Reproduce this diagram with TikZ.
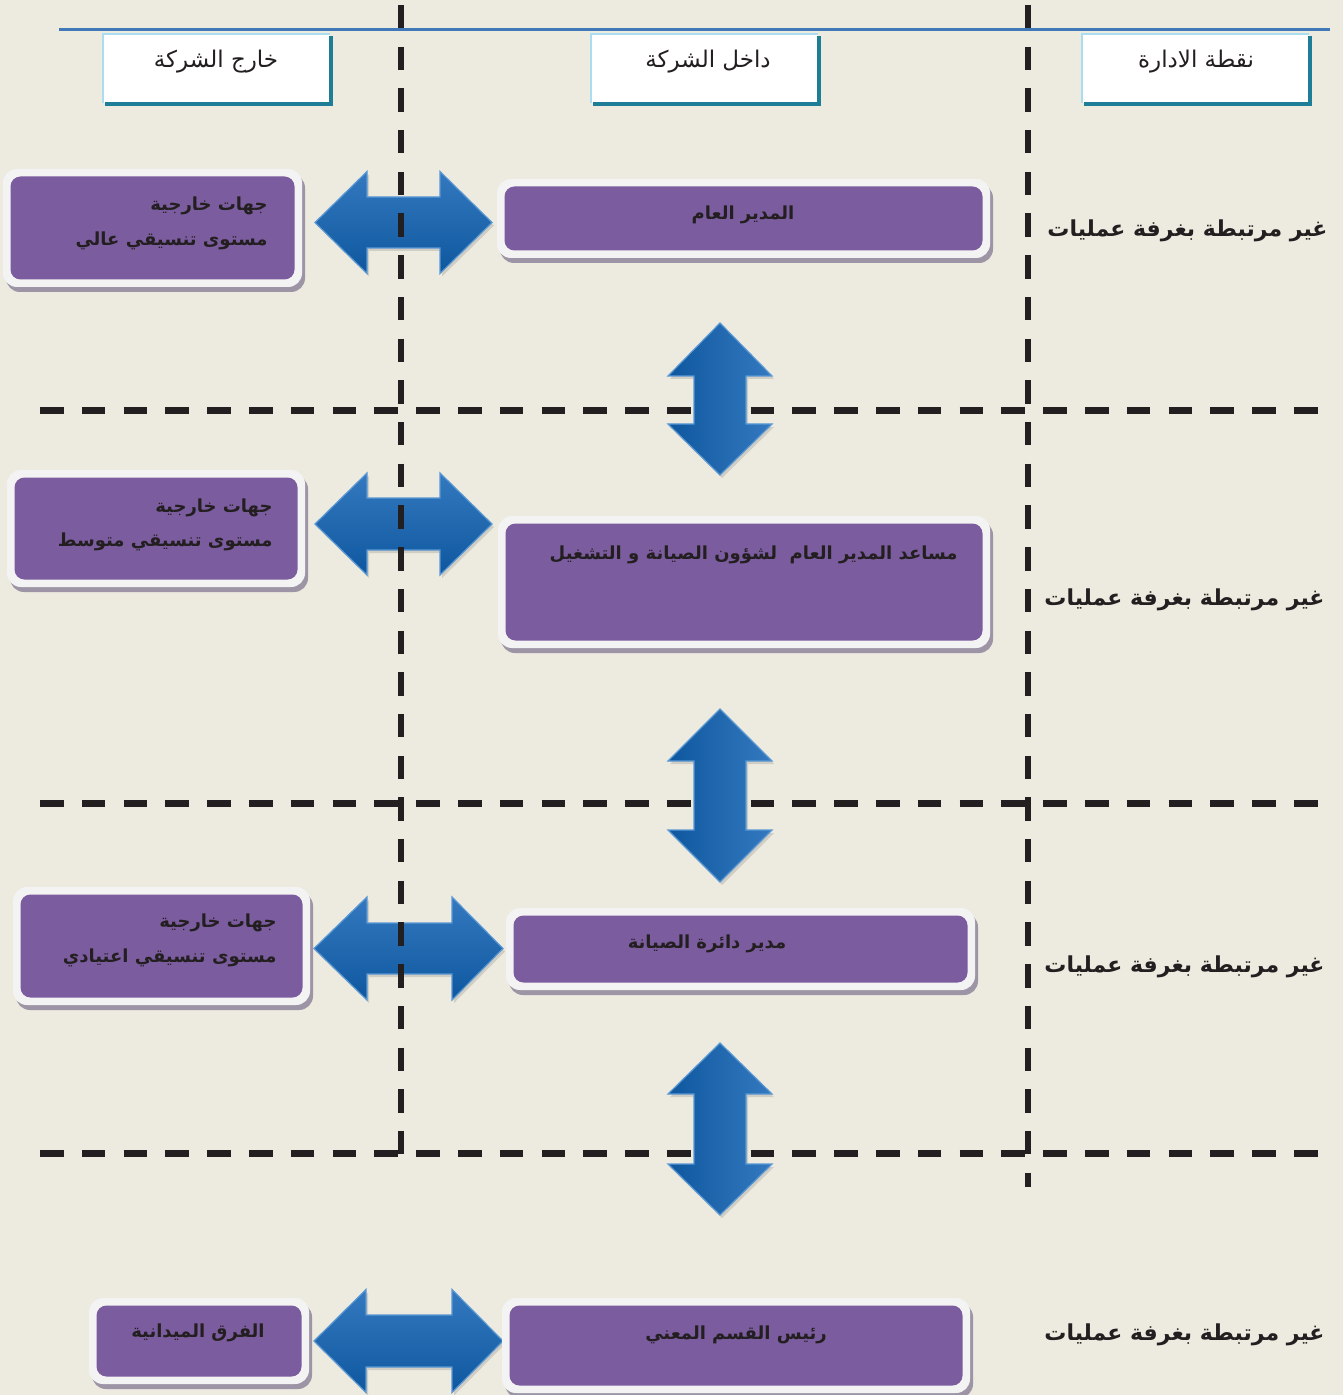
\documentclass[tikz,border=0pt]{standalone}
\usepackage{fontspec}
\newfontfamily\arabicfont[Script=Arabic]{DejaVu Sans}
\TeXXeTstate=1
\usetikzlibrary{calc}
\definecolor{bg}{HTML}{EDEAE0}
\definecolor{topline}{HTML}{4178B8}
\definecolor{dashc}{HTML}{231F20}
\definecolor{purp}{HTML}{7B5C9E}
\definecolor{framec}{HTML}{F3F3F3}
\definecolor{shadowc}{HTML}{9D95A5}
\definecolor{hlight}{HTML}{A9DDEF}
\definecolor{hdark}{HTML}{1E7D97}
\definecolor{arrlight}{HTML}{3479C0}
\definecolor{arrdark}{HTML}{0E579E}
\definecolor{arredge}{HTML}{5A98D4}
\definecolor{txt}{HTML}{231F20}
\newcommand\ar[1]{\arabicfont\beginR #1\endR}
\newcommand\pbox[5]{%
  \fill[shadowc,rounded corners=7pt] (#2+3,#3+5) rectangle (#4+3,#5+5);
  \fill[framec,rounded corners=7pt] (#2,#3) rectangle (#4,#5);
  \fill[purp,rounded corners=5pt] (#2+7.5,#3+7.5) rectangle (#4-7.5,#5-7.5);
  \coordinate (#1) at ({(#2+#4)/2},{(#3+#5)/2});}
\newcommand\headbox[5]{%
  \fill[white] (#2,#3) rectangle (#4,#5);
  \draw[hlight,line width=1.2pt] (#2,#5) -- (#2,#3) -- (#4,#3);
  \draw[hdark,line width=1.6pt] (#4+1,#3+2) -- (#4+1,#5+1) -- (#2+2,#5+1);
  \coordinate (#1) at ({(#2+#4)/2},{(#3+#5)/2});}
\newcommand\harr[7]{%
  \fill[black,opacity=0.12] (#1+2,#5+3) -- (#2+2,#5-#6+3) -- (#2+2,#5-#7+3) -- (#3+2,#5-#7+3) -- (#3+2,#5-#6+3) -- (#4+2,#5+3) -- (#3+2,#5+#6+3) -- (#3+2,#5+#7+3) -- (#2+2,#5+#7+3) -- (#2+2,#5+#6+3) -- cycle;
  \path[harrow] (#1,#5) -- (#2,#5-#6) -- (#2,#5-#7) -- (#3,#5-#7) -- (#3,#5-#6) -- (#4,#5) -- (#3,#5+#6) -- (#3,#5+#7) -- (#2,#5+#7) -- (#2,#5+#6) -- cycle;}
\newcommand\varr[7]{%
  \fill[black,opacity=0.12] (#5+2,#1+3) -- (#5-#6+2,#2+3) -- (#5-#7+2,#2+3) -- (#5-#7+2,#3+3) -- (#5-#6+2,#3+3) -- (#5+2,#4+3) -- (#5+#6+2,#3+3) -- (#5+#7+2,#3+3) -- (#5+#7+2,#2+3) -- (#5+#6+2,#2+3) -- cycle;
  \path[varrow] (#5,#1) -- (#5-#6,#2) -- (#5-#7,#2) -- (#5-#7,#3) -- (#5-#6,#3) -- (#5,#4) -- (#5+#6,#3) -- (#5+#7,#3) -- (#5+#7,#2) -- (#5+#6,#2) -- cycle;}
\tikzset{
  harrow/.style={top color=arrlight,bottom color=arrdark,draw=arredge,line width=0.6pt},
  varrow/.style={left color=arrdark,right color=arrlight,draw=arredge,line width=0.6pt},
  dlinev/.style={draw=dashc,line width=3pt,dash pattern=on 11.7pt off 9.15pt},
  dlineh/.style={draw=dashc,line width=3.5pt,dash pattern=on 11.8pt off 9.1pt},
  headtext/.style={text=txt,inner sep=0pt,font=\fontsize{11.5}{13}\selectfont},
  btext/.style={text=txt,inner sep=0pt,font=\fontsize{9}{10}\selectfont\bfseries},
  rtext/.style={text=txt,inner sep=0pt,font=\fontsize{11}{12}\selectfont\bfseries},
}
\begin{document}
\begin{tikzpicture}[x=0.5pt,y=-0.5pt]
\fill[bg] (0,0) rectangle (1343,1395);
\useasboundingbox (0,0) rectangle (1343,1395);
% top line
\draw[topline,line width=1.5pt] (59,30) -- (1330,30);
% header boxes
\headbox{h1}{103}{34}{330}{103}
\headbox{h2}{591}{34}{818}{103}
\headbox{h3}{1082}{34}{1309}{103}
\node[headtext] (h1t) at (216,62) {\ar{خارج الشركة}};
\node[headtext] (h2t) at (708,62) {\ar{داخل الشركة}};
\node[headtext] (h3t) at (1196,62) {\ar{نقطة الادارة}};
% horizontal arrows
\harr{315}{367}{440}{492}{222.5}{51}{25.5}
\harr{315}{367}{440}{492}{524}{51}{26}
\harr{314}{367}{452}{503}{948.5}{51.5}{25.5}
\harr{314}{366}{452}{503}{1341}{51.5}{26}
% dashed lines
\draw[dlinev] (401,5) -- (401,1160);
\draw[dlinev] (1028,5) -- (1028,1187);
\draw[dlineh] (40,411) -- (1325,411);
\draw[dlineh] (40,803) -- (1325,803);
\draw[dlineh] (40,1153) -- (1325,1153);
% vertical arrows
\varr{323}{376}{424}{475}{720}{52}{26}
\varr{709}{761}{830}{882}{720}{52}{26}
\varr{1043}{1094}{1164}{1215}{720}{52}{26}
% left boxes
\pbox{L1}{3}{169}{302}{287}
\pbox{L2}{7}{470}{305}{587}
\pbox{L3}{13}{887}{310}{1005}
\pbox{L4}{89}{1298}{309}{1384}
% middle boxes
\pbox{M1}{497}{179}{990}{258}
\pbox{M2}{498}{516}{990}{648}
\pbox{M3}{506}{908}{975}{990}
\pbox{M4}{502}{1298}{970}{1393}
% texts left
\node[btext,anchor=east] (L1a) at (268,206) {\ar{جهات خارجية}};
\node[btext,anchor=east] (L1b) at (268,241) {\ar{مستوى تنسيقي عالي}};
\node[btext,anchor=east] (L2a) at (273,508) {\ar{جهات خارجية}};
\node[btext,anchor=east] (L2b) at (273,542) {\ar{مستوى تنسيقي متوسط}};
\node[btext,anchor=east] (L3a) at (277,923) {\ar{جهات خارجية}};
\node[btext,anchor=east] (L3b) at (277,958) {\ar{مستوى تنسيقي اعتيادي}};
\node[btext] (L4a) at (198,1333) {\ar{الفرق الميدانية}};
% texts middle
\node[btext] (M1a) at (743,215) {\ar{المدير العام}};
\node[btext,anchor=east] (M2a) at (958,555) {\ar{مساعد المدير العام\ \ لشؤون الصيانة و التشغيل}};
\node[btext] (M3a) at (707,944) {\ar{مدير دائرة الصيانة}};
\node[btext] (M4a) at (736,1335) {\ar{رئيس القسم المعني}};
% right labels
\node[rtext,anchor=east] (R1) at (1328,231) {\ar{غير مرتبطة بغرفة عمليات}};
\node[rtext,anchor=east] (R2) at (1325,600) {\ar{غير مرتبطة بغرفة عمليات}};
\node[rtext,anchor=east] (R3) at (1325,967) {\ar{غير مرتبطة بغرفة عمليات}};
\node[rtext,anchor=east] (R4) at (1325,1335) {\ar{غير مرتبطة بغرفة عمليات}};
\end{tikzpicture}
\end{document}
